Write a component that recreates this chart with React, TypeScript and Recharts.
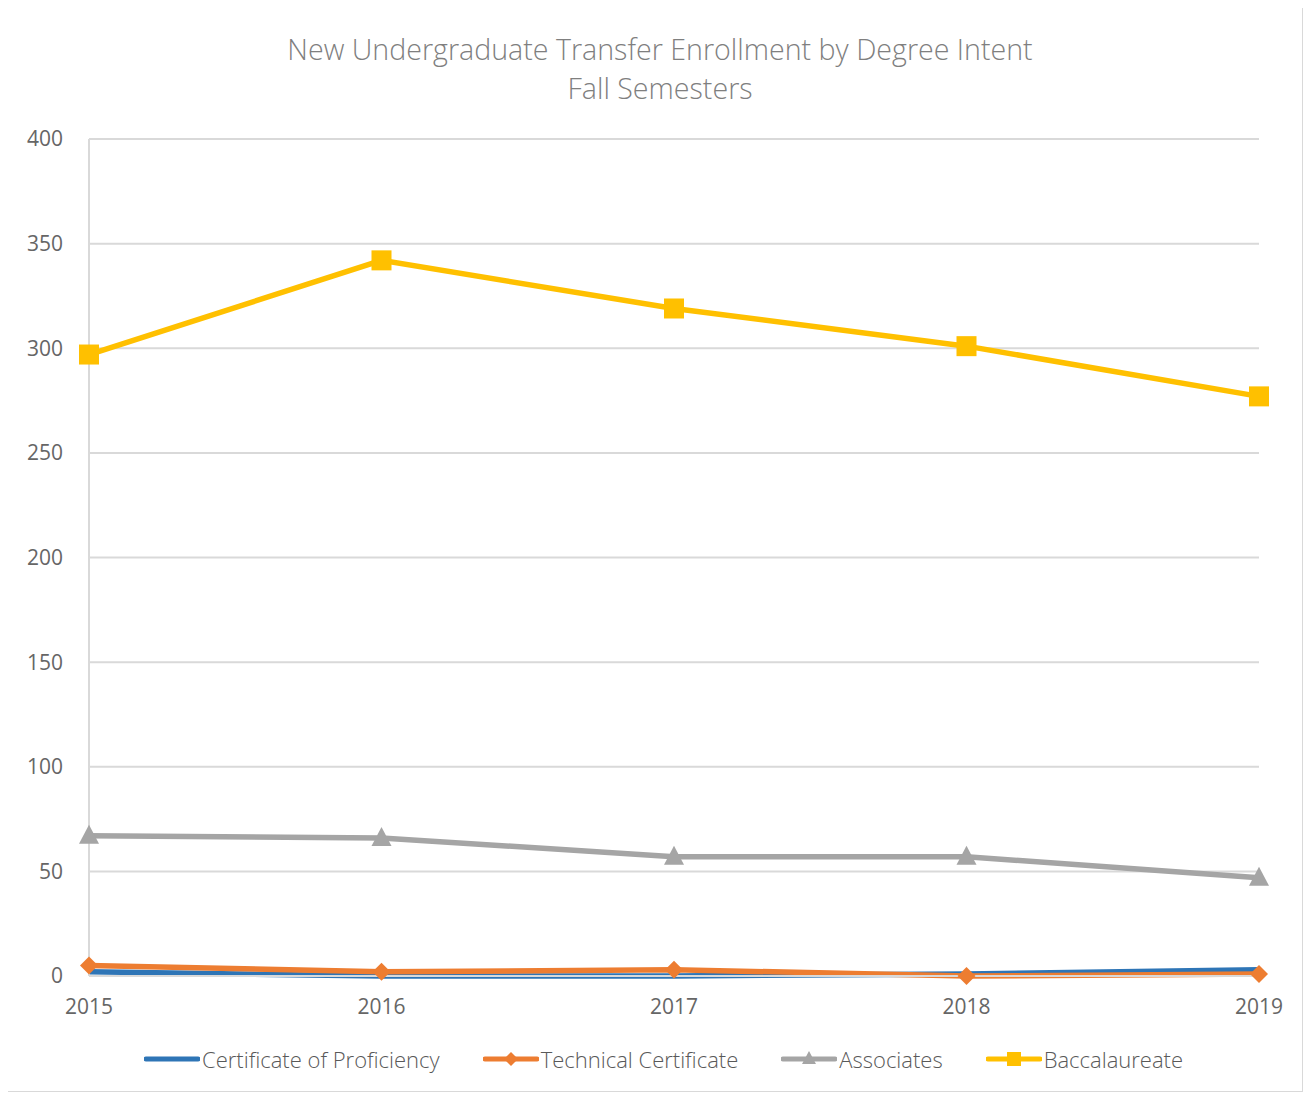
import { CartesianGrid, Line, LineChart, XAxis, YAxis } from "recharts";

const years = ["2015", "2016", "2017", "2018", "2019"];
const certificate = [2, 0, 0, 1, 3];
const technical = [5, 2, 3, 0, 1];
const associates = [67, 66, 57, 57, 47];
const baccalaureate = [297, 342, 319, 301, 277];
const yTicks = [0, 50, 100, 150, 200, 250, 300, 350, 400];

const data = years.map((y, i) => ({
  year: y,
  cert: certificate[i],
  tech: technical[i],
  assoc: associates[i],
  bacc: baccalaureate[i],
}));

const FONT = "'Open Sans', 'Noto Sans', sans-serif";

const Square = (props: any) => {
  const { cx, cy, fill } = props;
  return <rect x={cx - 10} y={cy - 10} width={20} height={20} fill={fill} />;
};

const Triangle = (props: any) => {
  const { cx, cy, fill } = props;
  return <polygon points={`${cx},${cy - 11} ${cx + 10},${cy + 8} ${cx - 10},${cy + 8}`} fill={fill} />;
};

const Diamond = (props: any) => {
  const { cx, cy, fill } = props;
  return <polygon points={`${cx},${cy - 9} ${cx + 9},${cy} ${cx},${cy + 9} ${cx - 9},${cy}`} fill={fill} />;
};

const legendItems = [
  { label: "Certificate of Proficiency", color: "#2E75B6", marker: "none" },
  { label: "Technical Certificate", color: "#ED7D31", marker: "diamond" },
  { label: "Associates", color: "#A5A5A5", marker: "triangle" },
  { label: "Baccalaureate", color: "#FFC000", marker: "square" },
];

const LegendIcon = ({ color, marker }: { color: string; marker: string }) => (
  <svg width={56} height={20} style={{ marginRight: 2 }}>
    <line x1={2} y1={10} x2={54} y2={10} stroke={color} strokeWidth={5} strokeLinecap="round" />
    {marker === "diamond" && <polygon points="28,3 35,10 28,17 21,10" fill={color} />}
    {marker === "triangle" && <polygon points="28,2 35,15 21,15" fill={color} />}
    {marker === "square" && <rect x={21} y={3} width={14} height={14} fill={color} />}
  </svg>
);

const App = () => {
  return (
    <div
      style={{
        position: "relative",
        width: 1296,
        height: 1085,
        border: "1px solid #d9d9d9",
        boxSizing: "border-box",
        marginLeft: -1,
        marginTop: -1,
        background: "#fff",
        fontFamily: FONT,
      }}
    >
      <div
        style={{
          position: "absolute",
          top: 21,
          left: 5,
          width: 1294,
          textAlign: "center",
          color: "#7f7f7f",
          fontSize: 28.6,
          lineHeight: "39px",
          fontWeight: 300,
        }}
      >
        <div>New Undergraduate Transfer Enrollment by Degree Intent</div>
        <div>Fall Semesters</div>
      </div>
      <LineChart
        width={1294}
        height={1083}
        data={data}
        margin={{ top: 131, right: 43, bottom: 85, left: 0 }}
      >
        <CartesianGrid vertical={false} stroke="#d9d9d9" strokeWidth={2} />
        <XAxis
          dataKey="year"
          stroke="#d9d9d9"
          strokeWidth={2}
          tickLine={false}
          tickMargin={17}
          tick={{ fill: "#666666", fontSize: 21, fontFamily: FONT }}
        />
        <YAxis
          width={81}
          domain={[0, 400]}
          ticks={yTicks}
          stroke="#d9d9d9"
          strokeWidth={2}
          tickLine={false}
          tickMargin={20}
          tick={{ fill: "#666666", fontSize: 21, fontFamily: FONT }}
        />
        <Line dataKey="cert" stroke="#2E75B6" strokeWidth={5.5} dot={false} isAnimationActive={false} />
        <Line
          dataKey="tech"
          stroke="#ED7D31"
          fill="#ED7D31"
          strokeWidth={5.5}
          dot={<Diamond />}
          isAnimationActive={false}
        />
        <Line
          dataKey="assoc"
          stroke="#A5A5A5"
          fill="#A5A5A5"
          strokeWidth={5.5}
          dot={<Triangle />}
          isAnimationActive={false}
        />
        <Line
          dataKey="bacc"
          stroke="#FFC000"
          fill="#FFC000"
          strokeWidth={5.5}
          dot={<Square />}
          isAnimationActive={false}
        />
      </LineChart>
      <div
        style={{
          position: "absolute",
          top: 1036,
          left: 136,
          display: "flex",
          alignItems: "center",
          color: "#595959",
          fontSize: 22,
          fontWeight: 300,
          whiteSpace: "nowrap",
        }}
      >
        {legendItems.map((item, i) => (
          <div key={item.label} style={{ display: "flex", alignItems: "center", marginLeft: i === 0 ? 0 : 43 }}>
            <LegendIcon color={item.color} marker={item.marker} />
            <span>{item.label}</span>
          </div>
        ))}
      </div>
    </div>
  );
};

export default App;
